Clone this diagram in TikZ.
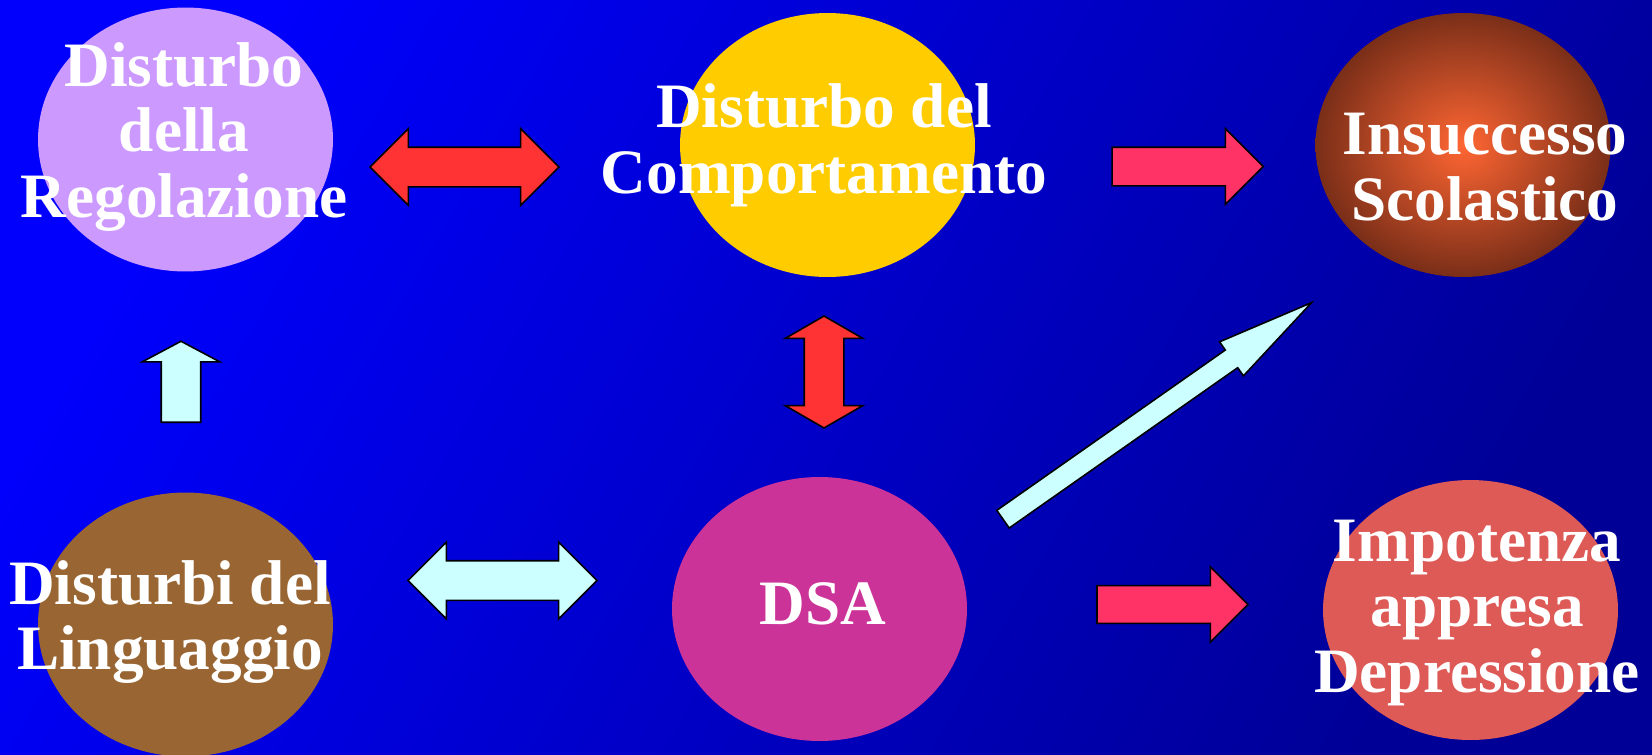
\documentclass[tikz,border=0pt]{standalone}
\usepackage{fontspec}
\setmainfont{Liberation Serif}
\usetikzlibrary{shapes.geometric, shapes.arrows, positioning}
\definecolor{bgtop}{RGB}{0,0,252}
\definecolor{bgbottom}{RGB}{0,0,150}
\definecolor{lilac}{HTML}{CC99FF}
\definecolor{amber}{HTML}{FFCC00}
\definecolor{rustlight}{HTML}{FF6633}
\definecolor{rustdark}{HTML}{7A2E18}
\definecolor{umber}{HTML}{996633}
\definecolor{orchid}{HTML}{CC3399}
\definecolor{coral}{HTML}{DE5A56}
\definecolor{arrowred}{HTML}{FF3333}
\definecolor{arrowpink}{HTML}{FF3366}
\definecolor{arrowcyan}{HTML}{CCFFFF}

\begin{document}
\begin{tikzpicture}[
  x=0.02cm, y=-0.02cm,
  bubble/.style={ellipse, inner sep=0pt, minimum width=5.9cm, minimum height=5.28cm},
  caption/.style={text=white, font=\bfseries\fontsize{36}{37.5}\selectfont, align=center, inner sep=0pt},
  blockarrow/.style={draw=black, line width=0.9pt, inner sep=0.37cm},
  onehead/.style={blockarrow, single arrow, single arrow tip angle=90, single arrow head extend=0.37cm, minimum height=3.02cm, minimum width=1.5cm},
  twohead/.style={blockarrow, inner sep=0.38cm, double arrow, double arrow tip angle=90, double arrow head extend=0.37cm, minimum height=3.78cm, minimum width=1.5cm}
]
  % background
  \shade[top color=bgtop, bottom color=bgbottom, shading angle=60] (0,0) rectangle (1652,754);
  \useasboundingbox (0,0) rectangle (1652,754);

  % ellipses
  \node[bubble, fill=lilac] (reg) at (185.5,139.5) {};
  \node[bubble, fill=amber] (comp) at (827.5,145) {};
  \node[bubble, inner color=rustlight, outer color=rustdark] (insucc) at (1463,145) {};
  \node[bubble, fill=umber] (ling) at (185.5,624.5) {};
  \node[bubble, fill=orchid] (dsa) at (819.5,609) {};
  \node[bubble, fill=coral, minimum height=5.2cm] (impot) at (1470.5,610) {};

  % texts
  \node[caption] (regtxt) at (184,137) {Disturbo\\della\\Regolazione};
  \node[caption] (comptxt) at (824,145) {Disturbo del\\Comportamento};
  \node[caption] (insucctxt) at (1485,167) {Insuccesso\\Scolastico};
  \node[caption] (lingtxt) at (170,622) {Disturbi del\\Linguaggio};
  \node[caption] (dsatxt) at (823,604) {DSA};
  \node[caption] (impottxt) at (1477,613) {Impotenza\\appresa\\Depressione};

  % block arrows
  \node[twohead, fill=arrowred] (regcomp) at (464.5,167) {};
  \node[onehead, fill=arrowpink] (compins) at (1178,166.5) {};
  \node[twohead, fill=arrowred, double arrow tip angle=120, double arrow head extend=0.38cm, minimum height=2.24cm, minimum width=1.52cm, shape border rotate=90] (compdsa) at (824,372) {};
  \node[onehead, fill=arrowcyan, inner sep=0.38cm, single arrow tip angle=124, single arrow head extend=0.38cm, minimum height=1.62cm, minimum width=1.52cm, shape border rotate=90] (lingreg) at (181,387) {};
  \node[twohead, fill=arrowcyan] (lingdsa) at (502.5,580.5) {};
  \node[onehead, fill=arrowpink, inner ysep=0.36cm] (dsaimp) at (1163,604.5) {};
  \node[onehead, fill=arrowcyan, inner xsep=0pt, inner ysep=0.2cm, single arrow tip angle=24, single arrow head extend=0.2cm, minimum height=7.54cm, minimum width=0.8cm, rotate=35.06] (dsains) at (1136.5,425.5) {};
\end{tikzpicture}
\end{document}
